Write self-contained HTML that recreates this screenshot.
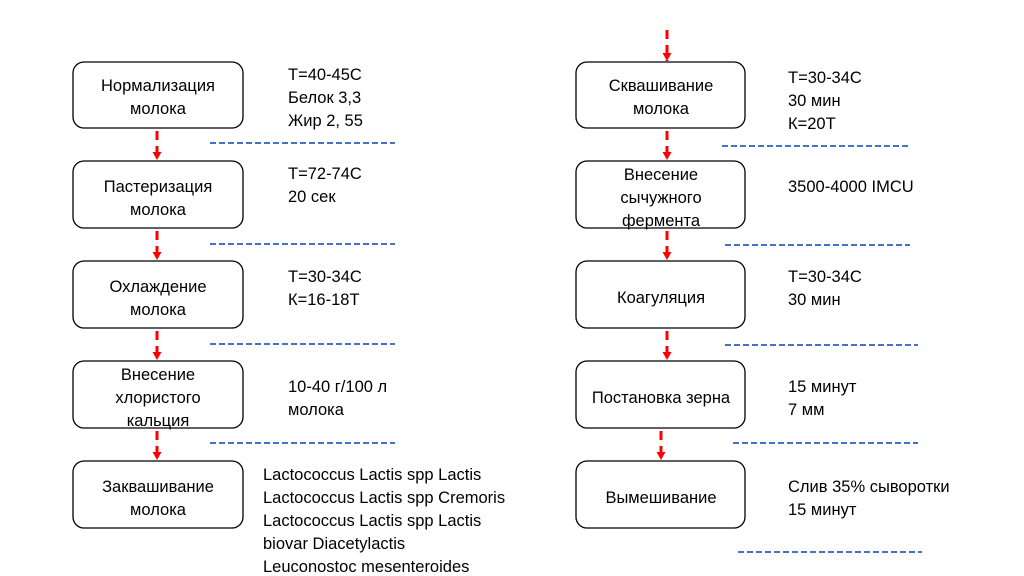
<!DOCTYPE html>
<html><head><meta charset="utf-8"><style>
body{margin:0;background:#fff;}
svg{display:block;font-family:"Liberation Sans",sans-serif;}
</style></head><body>
<svg width="1024" height="576" viewBox="0 0 1024 576" xmlns="http://www.w3.org/2000/svg">
<defs>
<marker id="a" markerWidth="9" markerHeight="9" refX="8" refY="4.5" orient="auto" markerUnits="userSpaceOnUse"><path d="M0,0 L8,4.5 L0,9z" fill="#f00"/></marker>
</defs>
<g fill="#fff" stroke="#000" stroke-width="1.3">
<rect x="73" y="62" width="170" height="66" rx="11"/>
<rect x="73" y="161" width="170" height="67" rx="11"/>
<rect x="73" y="261" width="170" height="67" rx="11"/>
<rect x="73" y="361" width="170" height="67" rx="11"/>
<rect x="73" y="461" width="170" height="67" rx="11"/>
<rect x="576" y="62" width="169" height="66" rx="11"/>
<rect x="576" y="161" width="169" height="67" rx="11"/>
<rect x="576" y="261" width="169" height="67" rx="11"/>
<rect x="576" y="361" width="169" height="67" rx="11"/>
<rect x="576" y="461" width="169" height="67" rx="11"/>
</g>
<g stroke="#f00" stroke-width="3" stroke-dasharray="9,6" marker-end="url(#a)" fill="none">
<path d="M157 131 V160"/><path d="M157 231 V260"/><path d="M157 331 V360"/><path d="M157 431 V460"/>
<path d="M667 30 V61"/><path d="M667 131 V160"/><path d="M667 231 V260"/><path d="M667 331 V360"/><path d="M661 431 V460"/>
</g>
<g stroke="#4472c4" stroke-width="2" stroke-dasharray="6,3">
<path d="M210 143 H395"/><path d="M210 244 H395"/><path d="M210 344 H395"/><path d="M210 443 H395"/>
<path d="M722 146 H910"/><path d="M725 245 H910"/><path d="M725 345 H918"/><path d="M733 443 H918"/><path d="M738 552 H922"/>
</g>
<g font-size="16.5" fill="#000" text-anchor="middle">
<text x="158" y="91">Нормализация</text><text x="158" y="114">молока</text>
<text x="158" y="192">Пастеризация</text><text x="158" y="215">молока</text>
<text x="158" y="292">Охлаждение</text><text x="158" y="315">молока</text>
<text x="158" y="380">Внесение</text><text x="158" y="403">хлористого</text><text x="158" y="426">кальция</text>
<text x="158" y="492">Заквашивание</text><text x="158" y="515">молока</text>
<text x="661" y="91">Сквашивание</text><text x="661" y="114">молока</text>
<text x="661" y="180">Внесение</text><text x="661" y="203">сычужного</text><text x="661" y="226">фермента</text>
<text x="661" y="303">Коагуляция</text>
<text x="661" y="403">Постановка зерна</text>
<text x="661" y="503">Вымешивание</text>
</g>
<g font-size="16.5" fill="#000">
<text x="288" y="80">Т=40-45С</text><text x="288" y="103">Белок 3,3</text><text x="288" y="126">Жир 2, 55</text>
<text x="288" y="179">Т=72-74С</text><text x="288" y="202">20 сек</text>
<text x="288" y="282">Т=30-34С</text><text x="288" y="305">К=16-18Т</text>
<text x="288" y="392">10-40 г/100 л</text><text x="288" y="415">молока</text>
<text x="263" y="480">Lactococcus Lactis spp Lactis</text>
<text x="263" y="503">Lactococcus Lactis spp Cremoris</text>
<text x="263" y="526">Lactococcus Lactis spp Lactis</text>
<text x="263" y="549">biovar Diacetylactis</text>
<text x="263" y="572">Leuconostoc mesenteroides</text>
<text x="788" y="83">Т=30-34С</text><text x="788" y="106">30 мин</text><text x="788" y="129">К=20Т</text>
<text x="788" y="192">3500-4000 IMCU</text>
<text x="788" y="282">Т=30-34С</text><text x="788" y="305">30 мин</text>
<text x="788" y="392">15 минут</text><text x="788" y="415">7 мм</text>
<text x="788" y="492">Слив 35% сыворотки</text><text x="788" y="515">15 минут</text>
</g>
</svg>
</body></html>
